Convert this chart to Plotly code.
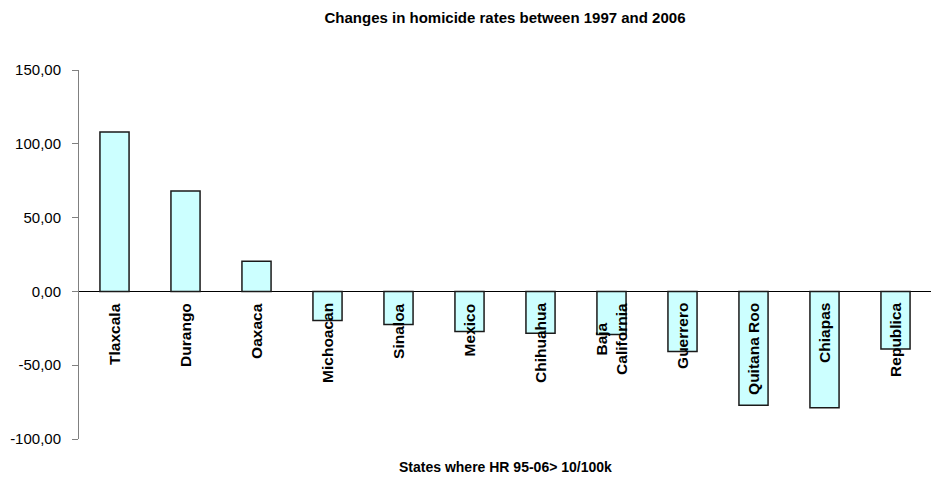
import plotly.graph_objects as go

states = ["Tlaxcala", "Durango", "Oaxaca", "Michoacan", "Sinaloa", "Mexico",
          "Chihuahua", "Baja<br>California", "Guerrero", "Quitana Roo", "Chiapas", "Republica"]
changes = [108.0, 68.0, 20.4, -19.7, -22.4, -27.2, -28.3, -29.2, -40.8, -77.2, -78.8, -39.0]
y_ticks = [-100, -50, 0, 50, 100, 150]
y_tick_text = ["-100,00", "-50,00", "0,00", "50,00", "100,00", "150,00"]

x_idx = list(range(len(states)))
FONT = "Liberation Sans, Arial, sans-serif"

fig = go.Figure()
fig.add_trace(go.Bar(
    x=x_idx, y=changes, width=0.41,
    marker=dict(color="#CCFFFF", line=dict(color="#1a1a1a", width=1.5)),
    hoverinfo="skip",
))

for i, s in enumerate(states):
    fig.add_annotation(
        x=i, y=0, xref="x", yref="y", text=f"<b>{s}</b>", textangle=-90,
        showarrow=False, xanchor="center", yanchor="top", yshift=-10, align="center",
        font=dict(family=FONT, size=15.5, color="black"),
    )

fig.add_annotation(
    x=0.5, y=0, xref="paper", yref="paper", text="<b>States where HR 95-06> 10/100k</b>",
    showarrow=False, xanchor="center", yanchor="middle", yshift=-28,
    font=dict(family=FONT, size=14, color="black"),
)

fig.update_layout(
    width=931, height=479,
    margin=dict(l=79, r=0, t=70, b=40),
    paper_bgcolor="white", plot_bgcolor="white",
    showlegend=False,
    title=dict(text="<b>Changes in homicide rates between 1997 and 2006</b>",
               x=0.5, xref="paper", xanchor="center", y=0.962, yanchor="middle",
               font=dict(family=FONT, size=15, color="black")),
    xaxis=dict(range=[-0.5, 11.5], showticklabels=False, showgrid=False, zeroline=False,
               showline=False, ticks="", fixedrange=True),
    yaxis=dict(range=[-100, 150], tickvals=y_ticks, ticktext=y_tick_text,
               showgrid=False, zeroline=True, zerolinecolor="black", zerolinewidth=1,
               showline=True, linecolor="#808080", linewidth=1,
               ticks="outside", ticklen=6, tickcolor="#808080", tickwidth=1,
               ticklabelstandoff=8,
               tickfont=dict(family=FONT, size=15, color="black")),
)

fig.write_html("out.html")
